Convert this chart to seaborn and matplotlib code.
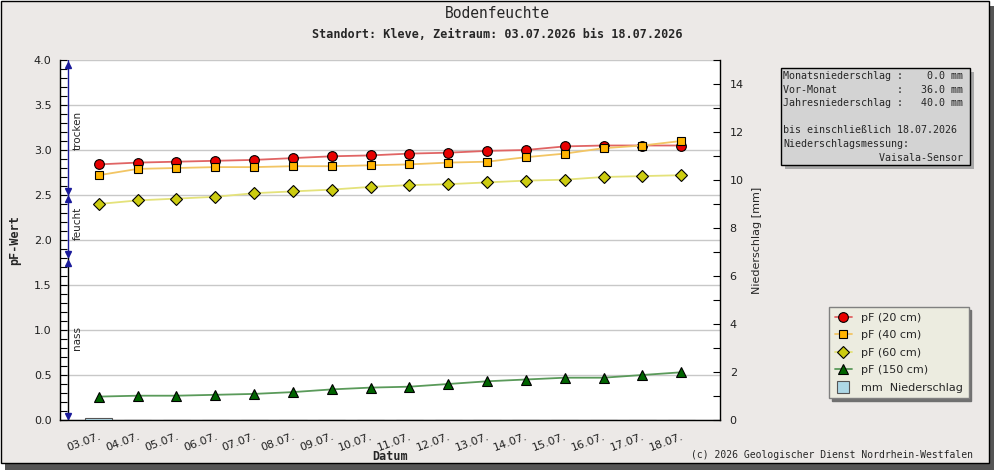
import numpy as np
import matplotlib
matplotlib.use("Agg")
import matplotlib.pyplot as plt
from matplotlib.lines import Line2D
from matplotlib.patches import Rectangle
from matplotlib.ticker import MultipleLocator
import seaborn as sns

# ---------------------------------------------------------------- data
dates = ["03.07.", "04.07.", "05.07.", "06.07.", "07.07.", "08.07.", "09.07.", "10.07.",
         "11.07.", "12.07.", "13.07.", "14.07.", "15.07.", "16.07.", "17.07.", "18.07."]
pf_20 = [2.84, 2.86, 2.87, 2.88, 2.89, 2.91, 2.93, 2.94, 2.96, 2.97, 2.99, 3.00, 3.04, 3.05, 3.05, 3.05]
pf_40 = [2.72, 2.79, 2.80, 2.81, 2.81, 2.82, 2.82, 2.83, 2.84, 2.86, 2.87, 2.92, 2.96, 3.02, 3.05, 3.10]
pf_60 = [2.40, 2.44, 2.46, 2.48, 2.52, 2.54, 2.56, 2.59, 2.61, 2.62, 2.64, 2.66, 2.67, 2.70, 2.71, 2.72]
pf_150 = [0.26, 0.27, 0.27, 0.28, 0.29, 0.31, 0.34, 0.36, 0.37, 0.40, 0.43, 0.45, 0.47, 0.47, 0.50, 0.53]
rain_mm = [0.08, 0, 0, 0, 0, 0, 0, 0, 0, 0, 0, 0, 0, 0, 0, 0]

series_labels = ["pF (20 cm)", "pF (40 cm)", "pF (60 cm)", "pF (150 cm)"]

zones = ["trocken", "feucht", "nass"]
zone_top = [4.0, 2.5, 1.8]
zone_bottom = [2.5, 1.8, 0.0]
zone_label_y = [3.22, 2.19, 0.91]

info_lines = [
    "Monatsniederschlag :    0.0 mm",
    "Vor-Monat          :   36.0 mm",
    "Jahresniederschlag :   40.0 mm",
    "",
    "bis einschließlich 18.07.2026",
    "Niederschlagsmessung:",
    "                Vaisala-Sensor",
]

# ---------------------------------------------------------------- style
sns.set_theme(style="white")
plt.rcParams["font.family"] = ["DejaVu Sans"]
MONO = "DejaVu Sans Mono"
BG = "#ECE9E7"

styles = [
    dict(color="#E06464", marker="o", markerfacecolor="#E80000", markersize=7),
    dict(color="#F2C564", marker="s", markerfacecolor="#FFB400", markersize=6.2),
    dict(color="#E4E27A", marker="D", markerfacecolor="#CCCC10", markersize=5.8),
    dict(color="#5A9A5A", marker="^", markerfacecolor="#006400", markersize=7),
]

fig = plt.figure(figsize=(9.95, 4.70), dpi=100, facecolor="white")

# frame with shadow
fig.patches.append(Rectangle((5 / 995, 0), 990 / 995, 464 / 470, transform=fig.transFigure,
                             facecolor="#555555", edgecolor="none", zorder=-20))
fig.patches.append(Rectangle((0.5 / 995, 7 / 470), 989 / 995, 462.5 / 470, transform=fig.transFigure,
                             facecolor=BG, edgecolor="black", lw=1, zorder=-19))

ax = fig.add_axes([60 / 995, 50 / 470, 660 / 995, 360 / 470])
ax.set_facecolor("white")
ax2 = ax.twinx()

pos = np.arange(len(dates))

# rain bars
sns.barplot(x=pos, y=rain_mm, ax=ax2, color="#ADD8E6", edgecolor="#555555",
            linewidth=0.8, width=0.7, saturation=1, native_scale=True)

# pF lines
handles = []
for vals, lab, st in zip([pf_20, pf_40, pf_60, pf_150], series_labels, styles):
    sns.lineplot(x=pos, y=vals, ax=ax, lw=1.3, markeredgecolor="black",
                 markeredgewidth=0.8, label=lab, legend=False, **st)
    handles.append(ax.lines[-1])
handles.append(Line2D([], [], ls="none", marker="s", markersize=8, markerfacecolor="#ADD8E6",
                      markeredgecolor="#555555", markeredgewidth=0.8, label="mm  Niederschlag"))

# moisture zones
x_arrow = -0.79
for name, top, bot, ly in zip(zones, zone_top, zone_bottom, zone_label_y):
    ax.plot([x_arrow, x_arrow], [top, bot], color="black" if name == "nass" else "#1A1A9A",
            lw=1, zorder=3)
    ax.plot([x_arrow], [top - 0.05], marker="^", color="#1A1A9A", ms=5, zorder=4)
    ax.plot([x_arrow], [bot + 0.04], marker="v", color="#1A1A9A", ms=5, zorder=4)
    ax.text(x_arrow + 0.24, ly, name, rotation=90, ha="center", va="center", fontsize=7.5)

# axes
ax.set_xlim(-1, 16)
ax.set_ylim(0, 4)
ax2.set_ylim(0, 15)
ax.set_xlabel("")
ax.set_ylabel("")
ax2.set_ylabel("")

ax.set_xticks(pos)
ax.set_xticklabels(dates, rotation=20, ha="right", va="top", rotation_mode="anchor", fontsize=8)
ax.set_yticks(np.arange(0, 4.01, 0.5))
ax.yaxis.set_major_formatter("{x:.1f}")
ax.yaxis.set_minor_locator(MultipleLocator(0.1))
ax2.set_yticks(range(0, 15, 2))
ax2.yaxis.set_minor_locator(MultipleLocator(1))

for a in (ax, ax2):
    a.tick_params(axis="both", which="both", direction="in", length=5, width=0.8,
                  color="black", labelsize=8, pad=6, labelcolor="#202020")
    for s in a.spines.values():
        s.set_color("black")
        s.set_linewidth(1)
    a.spines["top"].set_visible(False)
ax.spines["right"].set_visible(False)
ax2.spines["left"].set_visible(False)
ax2.spines["bottom"].set_visible(False)
ax2.tick_params(axis="y", pad=7)
ax.tick_params(axis="x", pad=8)

ax.yaxis.grid(True, color="#C8C8C8", lw=1)
ax.set_axisbelow(True)

# texts
fig.text(0.5, 1 - 14 / 470, "Bodenfeuchte", ha="center", va="center", family=MONO, fontsize=10.5)
fig.text(0.5, 1 - 34 / 470, "Standort: Kleve, Zeitraum: 03.07.2026 bis 18.07.2026",
         ha="center", va="center", family=MONO, fontsize=8.5, weight="bold")
fig.text(15 / 995, 1 - 240 / 470, "pF-Wert", rotation=90, ha="center", va="center",
         family=MONO, fontsize=8.5, weight="bold")
fig.text(390 / 995, 1 - 457 / 470, "Datum", ha="center", va="center",
         family=MONO, fontsize=8.5, weight="bold")
fig.text(757 / 995, 1 - 240 / 470, "Niederschlag [mm]", rotation=90, ha="center", va="center",
         fontsize=8)
fig.text(973 / 995, 1 - 455 / 470, "(c) 2026 Geologischer Dienst Nordrhein-Westfalen",
         ha="right", va="center", family=MONO, fontsize=7)

# info box
fig.patches.append(Rectangle((785 / 995, 1 - 169 / 470), 189 / 995, 97 / 470, transform=fig.transFigure,
                             facecolor="#A8A8A8", edgecolor="none", zorder=1))
fig.patches.append(Rectangle((781 / 995, 1 - 165 / 470), 189 / 995, 97 / 470, transform=fig.transFigure,
                             facecolor="#D3D3D3", edgecolor="black", lw=1, zorder=2))
fig.text(783 / 995, 1 - 71 / 470, "\n".join(info_lines), ha="left", va="top",
         family=MONO, fontsize=7.2, linespacing=1.45, zorder=3)

# legend
leg = fig.legend(handles=handles, loc="upper left", bbox_to_anchor=(829 / 995, 1 - 307 / 470),
                 fontsize=8, frameon=True, fancybox=False, framealpha=1,
                 facecolor="#ECECE0", edgecolor="#808080", handlelength=1.6,
                 handletextpad=0.8, labelspacing=0.68, borderpad=0.5, borderaxespad=0,
                 shadow={"color": "#707070", "alpha": 1})

fig.savefig("out.png", dpi=100, facecolor=fig.get_facecolor())
plt.close(fig)
